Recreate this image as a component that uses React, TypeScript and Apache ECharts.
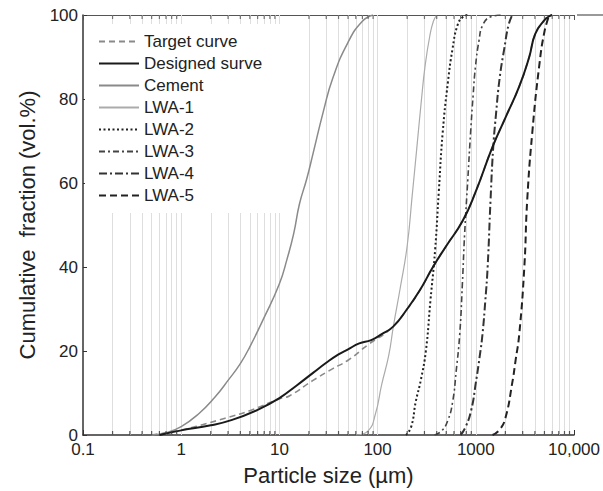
import React, { useEffect, useRef } from 'react';
import * as echarts from 'echarts';

// ---- data (particle size in µm, cumulative fraction in vol.%) ----
const TARGET_SIZE = [0.5, 1, 1.4, 2.8, 5, 10, 12.6, 22, 35, 50, 80, 137, 200, 270, 366, 500, 735, 1000, 1480, 2000, 2770, 3500, 4030, 5000, 5600, 6000];
const TARGET_PCT = [0, 1.2, 2, 4, 5.8, 8.6, 9.3, 13, 15.8, 17.8, 21.5, 25.4, 30, 34.5, 40, 45, 51, 58, 68.6, 75.5, 83, 90, 95.5, 98.8, 99.7, 100];

const DESIGNED_SIZE = [0.6, 1, 2, 3.3, 6, 10, 15, 22, 30, 40, 50, 65, 86, 110, 144, 200, 270, 366, 500, 735, 1000, 1480, 2000, 2770, 3500, 4030, 5000, 5600, 6000];
const DESIGNED_PCT = [0, 1.1, 2.3, 3.6, 6, 8.8, 11.8, 14.8, 17.2, 19.2, 20.4, 21.8, 22.6, 24, 25.8, 30, 34.5, 40, 45, 51, 58, 68.6, 75.5, 83, 90, 95.5, 98.8, 99.7, 100];

const CEMENT_SIZE = [0.5, 0.7, 1, 1.5, 2.2, 3, 4, 5, 7, 10, 12, 14, 16, 19, 22, 28, 35, 50, 70, 90];
const CEMENT_PCT = [0, 0.5, 2, 5, 9, 13, 17, 21, 28, 36, 42, 48, 55, 61, 67, 77, 85, 93.5, 98.5, 100];

const LWA1_SIZE = [60, 80, 95, 110, 130, 145, 170, 200, 225, 250, 280, 305, 340, 370, 400];
const LWA1_PCT = [0, 1, 5, 12, 19, 26, 35, 45, 57, 68, 80, 88, 95, 98.5, 100];

const LWA2_SIZE = [195, 220, 245, 275, 310, 345, 385, 420, 460, 520, 580, 650, 735, 830];
const LWA2_PCT = [0, 2, 8, 13, 20, 32, 44, 58, 72, 84, 92, 97.5, 99.5, 100];

const LWA3_SIZE = [380, 450, 520, 582, 630, 686, 730, 770, 830, 885, 940, 995, 1080, 1172, 1400, 1860];
const LWA3_PCT = [0, 1, 3.5, 8, 15, 24, 36, 48, 61, 72, 81, 88, 94, 97.5, 99.5, 100];

const LWA4_SIZE = [700, 790, 900, 1000, 1100, 1170, 1250, 1320, 1413, 1500, 1600, 1750, 1950, 2150, 2350];
const LWA4_PCT = [0, 2, 6, 12.4, 19, 24, 32, 40, 56, 68, 76, 85, 92, 97.5, 100];

const LWA5_SIZE = [1480, 1740, 2000, 2350, 2550, 2770, 3120, 3340, 3760, 4430, 5000, 5600];
const LWA5_PCT = [0, 1.2, 4, 12.4, 18, 24, 40, 56, 72, 88, 96, 100];

const X_DECADES = [0.1, 1, 10, 100, 1000, 10000];
const X_DECADE_LABELS = ['0.1', '1', '10', '100', '1000', '10,000'];
const X_MINOR = [
  0.2, 0.3, 0.4, 0.5, 0.6, 0.7, 0.8, 0.9,
  2, 3, 4, 5, 6, 7, 8, 9,
  20, 30, 40, 50, 60, 70, 80, 90,
  200, 300, 400, 500, 600, 700, 800, 900,
  2000, 3000, 4000, 5000, 6000, 7000, 8000, 9000,
];

const FONT = "'Liberation Sans', Arial, sans-serif";
const TXT = '#222';

const pairs = (xs: number[], ys: number[]) => xs.map((x, i) => [x, ys[i]]);

export default function App() {
  const ref = useRef<HTMLDivElement>(null);

  useEffect(() => {
    if (!ref.current) return;
    const chart = echarts.init(ref.current, null, { renderer: 'svg' });

    const lineSeries = (
      name: string,
      xs: number[],
      ys: number[],
      color: string,
      width: number,
      type: any,
      z: number
    ) => ({
      name,
      type: 'line',
      data: pairs(xs, ys),
      symbol: 'none',
      smooth: 0.5,
      z,
      lineStyle: { color, width, type, cap: 'butt', join: 'round' },
      itemStyle: { color },
    });

    const gridLines = [...X_MINOR, ...X_DECADES.slice(1, 5)];

    chart.setOption({
      animation: false,
      backgroundColor: '#fff',
      textStyle: { fontFamily: FONT },
      grid: { left: 83, right: 26, top: 15, bottom: 56 },
      xAxis: [
        {
          type: 'log',
          logBase: 10,
          min: 0.1,
          max: 10000,
          name: 'Particle size (µm)',
          nameLocation: 'middle',
          nameGap: 29,
          nameTextStyle: { fontSize: 22, color: TXT, fontFamily: FONT },
          axisLine: { show: true, onZero: false, lineStyle: { color: '#333', width: 1.5 } },
          axisTick: { show: true, inside: true, length: 5, lineStyle: { color: '#333' } },
          axisLabel: {
            fontSize: 17,
            color: TXT,
            fontFamily: FONT,
            margin: 6,
            formatter: (v: number) => {
              const i = X_DECADES.findIndex((d) => Math.abs(Math.log10(d) - Math.log10(v)) < 1e-6);
              return i >= 0 ? X_DECADE_LABELS[i] : '';
            },
          },
          splitLine: { show: false },
        },
        {
          type: 'log',
          logBase: 10,
          min: 0.1,
          max: 10000,
          position: 'top',
          axisLine: { show: true, onZero: false, lineStyle: { color: '#555', width: 1.2 } },
          axisTick: { show: true, inside: true, length: 5, lineStyle: { color: '#555' } },
          axisLabel: { show: false },
          splitLine: { show: false },
        },
      ],
      yAxis: {
        type: 'value',
        min: 0,
        max: 100,
        interval: 20,
        name: 'Cumulative  fraction (vol.%)',
        nameLocation: 'middle',
        nameGap: 44,
        nameTextStyle: { fontSize: 22, color: TXT, fontFamily: FONT },
        axisLine: { show: true, lineStyle: { color: '#333', width: 1.5 } },
        axisTick: { show: true, inside: true, length: 4, lineStyle: { color: '#333' } },
        axisLabel: { fontSize: 17, color: TXT, fontFamily: FONT, margin: 5 },
        splitLine: { show: false },
      },
      legend: {
        orient: 'vertical',
        left: 85,
        top: 24,
        z: 20,
        padding: [8, 22, 8, 13],
        backgroundColor: '#fff',
        itemWidth: 40,
        itemHeight: 14,
        itemGap: 3,
        textStyle: { fontSize: 17, color: TXT, fontFamily: FONT, lineHeight: 19 },
        itemStyle: { color: 'rgba(0,0,0,0)', borderWidth: 0 },
        data: ['Target curve', 'Designed surve', 'Cement', 'LWA-1', 'LWA-2', 'LWA-3', 'LWA-4', 'LWA-5'],
      },
      graphic: [
        {
          type: 'line',
          shape: { x1: 577, y1: 15, x2: 603, y2: 15 },
          style: { stroke: '#555', lineWidth: 1.2 },
          silent: true,
        },
      ],
      series: [
        {
          name: 'grid',
          type: 'line',
          data: [],
          silent: true,
          z: 1,
          markLine: {
            silent: true,
            z: 1,
            symbol: 'none',
            label: { show: false },
            lineStyle: { color: '#dedede', width: 1, type: 'solid' },
            data: gridLines.map((v) => ({ xAxis: v })),
          },
        },
        {
          name: 'minorBottom',
          type: 'scatter',
          data: X_MINOR.map((v) => [v, 0]),
          symbol: 'rect',
          symbolSize: [1.2, 4],
          symbolOffset: [0, -2],
          itemStyle: { color: '#333' },
          silent: true,
          clip: false,
          z: 5,
        },
        {
          name: 'minorTop',
          type: 'scatter',
          data: X_MINOR.map((v) => [v, 100]),
          symbol: 'rect',
          symbolSize: [1.2, 4],
          symbolOffset: [0, 2],
          itemStyle: { color: '#555' },
          silent: true,
          clip: false,
          z: 5,
        },
        lineSeries('Target curve', TARGET_SIZE, TARGET_PCT, '#8a8a8a', 1.6, [6, 4], 2),
        lineSeries('Cement', CEMENT_SIZE, CEMENT_PCT, '#8a8a8a', 1.5, 'solid', 3),
        lineSeries('LWA-1', LWA1_SIZE, LWA1_PCT, '#ababab', 1.2, 'solid', 3),
        lineSeries('LWA-2', LWA2_SIZE, LWA2_PCT, '#222', 2, [2, 2.5], 3),
        lineSeries('LWA-3', LWA3_SIZE, LWA3_PCT, '#444', 1.6, [6, 3, 2, 3], 3),
        lineSeries('LWA-4', LWA4_SIZE, LWA4_PCT, '#333', 2, [8, 3, 2, 3], 3),
        lineSeries('LWA-5', LWA5_SIZE, LWA5_PCT, '#222', 2, [7, 4], 3),
        lineSeries('Designed surve', DESIGNED_SIZE, DESIGNED_PCT, '#1a1a1a', 2, 'solid', 4),
      ],
    });

    return () => chart.dispose();
  }, []);

  return (
    <div
      ref={ref}
      style={{ position: 'fixed', left: 0, top: 0, width: 603, height: 491, background: '#fff' }}
    />
  );
}
